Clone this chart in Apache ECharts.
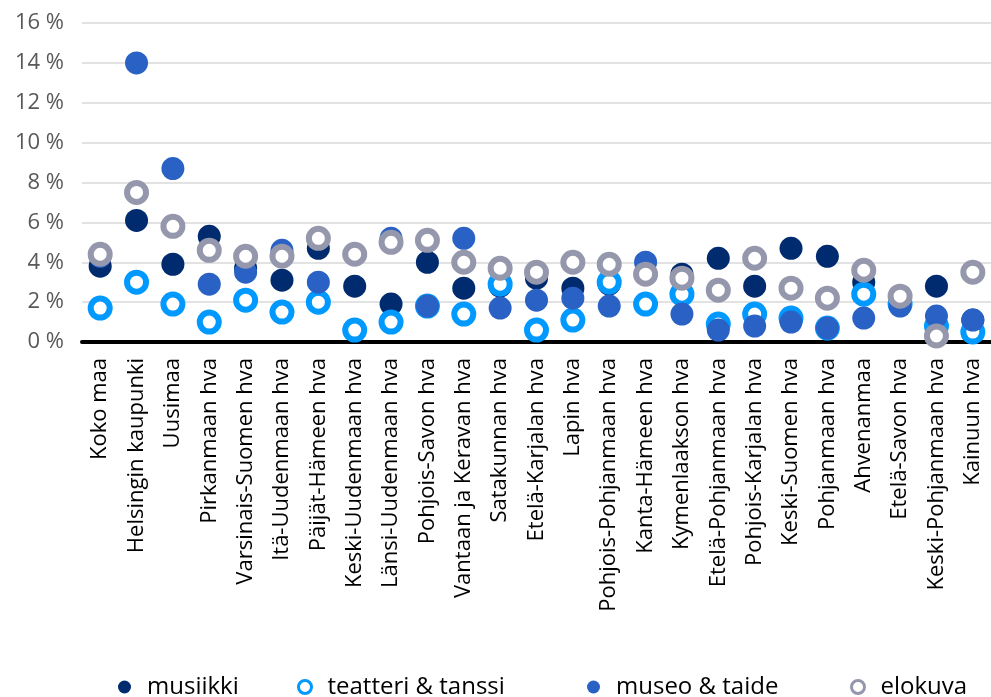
<!DOCTYPE html>
<html>
<head>
<meta charset="utf-8">
<script src="https://cdn.jsdelivr.net/npm/echarts@6/dist/echarts.min.js"></script>
<style>
  html, body { margin: 0; padding: 0; background: #fff; }
  #chart { width: 991px; height: 697px; }
</style>
</head>
<body>
<div id="chart"></div>
<script>
//--------------------- Data ---------------------------//
const categories = [
  'Koko maa', 'Helsingin kaupunki', 'Uusimaa', 'Pirkanmaan hva', 'Varsinais-Suomen hva',
  'Itä-Uudenmaan hva', 'Päijät-Hämeen hva', 'Keski-Uudenmaan hva', 'Länsi-Uudenmaan hva',
  'Pohjois-Savon hva', 'Vantaan ja Keravan hva', 'Satakunnan hva', 'Etelä-Karjalan hva',
  'Lapin hva', 'Pohjois-Pohjanmaan hva', 'Kanta-Hämeen hva', 'Kymenlaakson hva',
  'Etelä-Pohjanmaan hva', 'Pohjois-Karjalan hva', 'Keski-Suomen hva', 'Pohjanmaan hva',
  'Ahvenanmaa', 'Etelä-Savon hva', 'Keski-Pohjanmaan hva', 'Kainuun hva'
];
const musiikki = [3.8, 6.1, 3.9, 5.3, 3.7, 3.1, 4.7, 2.8, 1.9, 4.0, 2.7, 2.8, 3.2, 2.7, 2.9, 3.4, 3.4, 4.2, 2.8, 4.7, 4.3, 3.0, 2.2, 2.8, 1.1];
const teatteri = [1.7, 3.0, 1.9, 1.0, 2.1, 1.5, 2.0, 0.6, 1.0, 1.8, 1.4, 2.9, 0.6, 1.1, 3.0, 1.9, 2.4, 0.9, 1.4, 1.2, 0.7, 2.4, 1.9, 0.8, 0.5];
const museo = [4.3, 14.0, 8.7, 2.9, 3.5, 4.6, 3.0, 4.4, 5.2, 1.8, 5.2, 1.7, 2.1, 2.2, 1.8, 4.0, 1.4, 0.6, 0.8, 1.0, 0.7, 1.2, 1.8, 1.3, 1.1];
const elokuva = [4.4, 7.5, 5.8, 4.6, 4.3, 4.3, 5.2, 4.4, 5.0, 5.1, 4.0, 3.7, 3.5, 4.0, 3.9, 3.4, 3.2, 2.6, 4.2, 2.7, 2.2, 3.6, 2.3, 0.3, 3.5];

const seriesNames = ['musiikki', 'teatteri & tanssi', 'museo & taide', 'elokuva'];
const seriesData = [musiikki, teatteri, museo, elokuva];
const colors = ['#002b6e', '#0099ff', '#2962c4', '#9598ad'];
const isRing = [false, true, false, true];
const legendLeft = [113, 292, 582, 845];

const font = '"Open Sans", "Noto Sans", sans-serif';

//--------------------- Chart ---------------------------//
const chart = echarts.init(document.getElementById('chart'), null, { renderer: 'canvas' });

// Scatter series, drawn in order so later ones sit on top
const series = seriesNames.map((name, i) => ({
  name: name,
  type: 'scatter',
  data: seriesData[i],
  symbol: 'circle',
  symbolSize: isRing[i] ? 19 : 23,
  itemStyle: isRing[i]
    ? { color: '#ffffff', borderColor: colors[i], borderWidth: 6, opacity: 1 }
    : { color: colors[i], opacity: 1 },
  emphasis: { disabled: true },
  animation: false
}));

// One legend per entry so each can sit where the reference puts it
const legends = seriesNames.map((name, i) => ({
  left: legendLeft[i],
  top: 670,
  icon: 'circle',
  itemWidth: 13,
  itemHeight: 13,
  selectedMode: false,
  textStyle: { fontFamily: font, fontSize: 24, color: '#000', padding: [0, 0, 0, 11] },
  data: [{
    name: name,
    itemStyle: isRing[i]
      ? { color: '#ffffff', borderColor: colors[i], borderWidth: 3 }
      : { color: colors[i], borderWidth: 0 }
  }]
}));

const option = {
  animation: false,
  backgroundColor: '#fff',
  grid: { left: 82, right: -9, top: 23, bottom: 355, containLabel: false },
  legend: legends,
  xAxis: {
    type: 'category',
    data: categories,
    boundaryGap: true,
    axisTick: { show: false },
    axisLine: { show: true, lineStyle: { color: '#000', width: 4 } },
    axisLabel: {
      interval: 0,
      rotate: 90,
      margin: 16,
      fontFamily: font,
      fontSize: 22,
      color: '#000'
    },
    splitLine: { show: false }
  },
  yAxis: {
    type: 'value',
    min: 0,
    max: 16,
    interval: 2,
    axisLine: { show: false },
    axisTick: { show: false },
    axisLabel: {
      formatter: '{value} %',
      margin: 18,
      fontFamily: font,
      fontSize: 22,
      color: '#595959'
    },
    splitLine: { show: true, lineStyle: { color: '#d9d9d9', width: 1.5 } }
  },
  series: series
};

chart.setOption(option);
</script>
</body>
</html>
